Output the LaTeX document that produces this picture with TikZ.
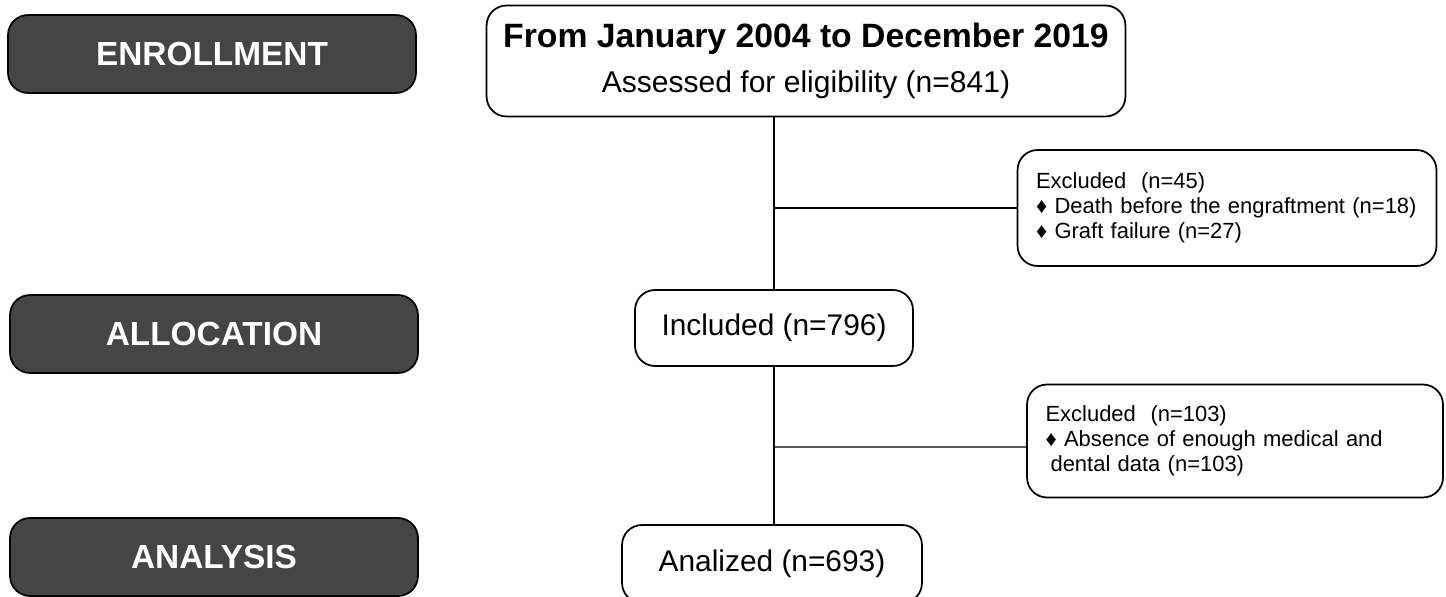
\documentclass[tikz,border=0pt]{standalone}
\usepackage{fontspec}
\setmainfont{Liberation Sans}
\usetikzlibrary{positioning}
\definecolor{phasegrey}{rgb}{0.27,0.27,0.27}
\newcommand{\dmd}{♦}

\begin{document}
\begin{tikzpicture}[x=0.02cm, y=-0.02cm,
  phase/.style={draw=black, fill=phasegrey, rounded corners=0.4cm, line width=1pt,
    text=white, font=\fontsize{19}{23}\selectfont\bfseries,
    minimum width=8.16cm, minimum height=1.56cm, inner sep=0pt},
  flowbox/.style={draw=black, rounded corners=0.4cm, line width=1pt,
    font=\fontsize{17}{20}\selectfont, inner sep=0pt, minimum height=1.52cm},
  exclbox/.style={draw=black, rounded corners=0.4cm, line width=1pt,
    font=\fontsize{12.5}{14.2}\selectfont, align=left, inner xsep=0.37cm, inner ysep=0pt},
  link/.style={line width=0.8pt}]
  \useasboundingbox (0,0) rectangle (1446,597);

  % phases on the left
  \node[phase] (enroll) at (212,54)  {ENROLLMENT};
  \node[phase] (alloc)  at (214,334) {ALLOCATION};
  \node[phase] (analys) at (214,557) {ANALYSIS};

  % main flow
  \node[flowbox, minimum width=12.78cm, minimum height=2.22cm, align=center] (assess) at (806,61)
    {{\bfseries\fontsize{19.2}{23}\selectfont From January 2004 to December 2019}\\[0.2cm]
     \fontsize{17.1}{20}\selectfont Assessed for eligibility (n=841)};
  \node[flowbox, minimum width=5.56cm] (incl) at (774,328) {Included (n=796)};
  \node[flowbox, minimum width=6cm, minimum height=1.56cm] (anal) at (772,564)
    {Analized (n=693)\hspace{0.1cm}};

  % exclusions
  \node[exclbox, text width=7.64cm, minimum height=2.32cm] (excla) at (1227,208)
    {Excluded\ \ (n=45)\\
     \mbox{\dmd\ Death before the engraftment (n=18)}\\
     \dmd\ Graft failure (n=27)};
  \node[exclbox, text width=7.58cm, minimum height=2.26cm] (exclb) at (1235,441)
    {Excluded\ \ (n=103)\\
     \mbox{\dmd\ Absence of enough medical and}\\
     \hspace{0.1cm}dental data (n=103)};

  \draw[link] (incl.north |- assess.south) -- (incl.north);
  \draw[link] (incl.north |- excla.west) -- (excla.west);
  \draw[link] (incl.south) -- (incl.south |- anal.north);
  \draw[link] (incl.south |- exclb.west) ++(0,6) -- ([yshift=-0.12cm]exclb.west);
\end{tikzpicture}
\end{document}
